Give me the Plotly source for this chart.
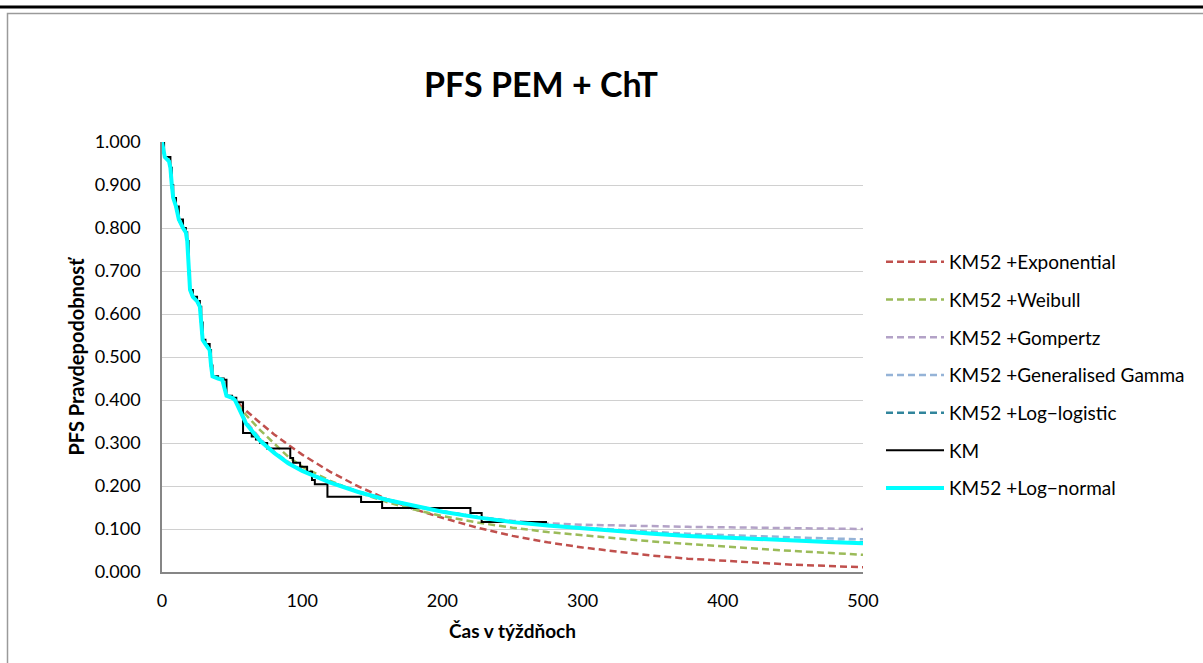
import plotly.graph_objects as go

# ---- data ----
km_t = [0, 1.5, 6, 7, 8, 10, 12, 15, 17, 18, 19, 20, 22, 25, 27, 28, 29, 31, 34, 35, 36, 40, 44, 46, 50, 53,
        57.8, 64, 67, 70, 75, 91.5, 93.5, 98.5, 103.5, 107, 109, 118, 142, 157, 220, 228, 274.6]
km_s = [1.000, 0.965, 0.940, 0.900, 0.870, 0.850, 0.820, 0.800, 0.790, 0.770, 0.700, 0.656, 0.640, 0.630,
        0.617, 0.580, 0.540, 0.530, 0.516, 0.480, 0.455, 0.450, 0.447, 0.410, 0.405, 0.395,
        0.323, 0.315, 0.308, 0.300, 0.287, 0.265, 0.254, 0.245, 0.233, 0.214, 0.204, 0.175, 0.163, 0.149,
        0.137, 0.116, 0.116]

early_t = [0, 1, 2, 5, 6, 7, 8, 10, 12, 15, 17, 18, 19, 20, 22, 25, 27, 28, 29, 31, 34, 35, 36, 40, 43, 46, 50]
early_s = [1.000, 0.985, 0.965, 0.955, 0.940, 0.900, 0.870, 0.850, 0.820, 0.800, 0.790, 0.770, 0.700, 0.656,
           0.640, 0.630, 0.617, 0.580, 0.540, 0.530, 0.516, 0.480, 0.455, 0.450, 0.447, 0.410, 0.405]

fit_t = [52, 60, 70, 80, 90, 100, 120, 140, 160, 180, 200, 225, 250, 275, 300, 325, 350, 375, 400, 425, 450, 475, 500]
exponential = [0.400, 0.375, 0.347, 0.320, 0.296, 0.273, 0.233, 0.199, 0.170, 0.146, 0.126, 0.103, 0.084, 0.069,
               0.057, 0.047, 0.038, 0.031, 0.026, 0.021, 0.017, 0.014, 0.011]
weibull = [0.400, 0.365, 0.330, 0.298, 0.268, 0.245, 0.212, 0.185, 0.163, 0.145, 0.130, 0.115, 0.103, 0.093,
           0.085, 0.078, 0.071, 0.065, 0.059, 0.054, 0.049, 0.044, 0.040]
gompertz = [0.400, 0.350, 0.310, 0.280, 0.256, 0.237, 0.209, 0.186, 0.167, 0.152, 0.140, 0.128, 0.119, 0.113,
            0.110, 0.108, 0.106, 0.105, 0.104, 0.103, 0.102, 0.101, 0.100]
gen_gamma = [0.400, 0.347, 0.306, 0.278, 0.254, 0.236, 0.209, 0.187, 0.169, 0.154, 0.141, 0.128, 0.117, 0.109,
             0.103, 0.098, 0.093, 0.089, 0.086, 0.083, 0.080, 0.078, 0.076]
log_logistic = [0.400, 0.346, 0.306, 0.278, 0.254, 0.236, 0.209, 0.187, 0.169, 0.154, 0.141, 0.128, 0.117, 0.109,
                0.102, 0.096, 0.090, 0.085, 0.081, 0.077, 0.074, 0.071, 0.069]
log_normal = [0.400, 0.345, 0.305, 0.277, 0.253, 0.235, 0.208, 0.186, 0.168, 0.153, 0.140, 0.127, 0.116, 0.108,
              0.101, 0.095, 0.089, 0.084, 0.080, 0.076, 0.073, 0.070, 0.067]

x_ticks = [0, 100, 200, 300, 400, 500]
y_ticks = [0.0, 0.1, 0.2, 0.3, 0.4, 0.5, 0.6, 0.7, 0.8, 0.9, 1.0]

FONT = "Lato, 'Open Sans', sans-serif"
W, H = 1203, 663
L, R, T, B = 162, 863, 142, 572


def px(x):
    return (x - L) / (R - L)


def py(y):
    return (B - y) / (B - T)


fig = go.Figure()
dash = "7px,4px"
fits = [
    ("KM52 +Exponential", exponential, "#C0504D"),
    ("KM52 +Weibull", weibull, "#9BBB59"),
    ("KM52 +Gompertz", gompertz, "#B3A2C7"),
    ("KM52 +Generalised Gamma", gen_gamma, "#95B3D7"),
    ("KM52 +Log\u2212logistic", log_logistic, "#31859C"),
]
for name, vals, col in fits:
    fig.add_trace(go.Scatter(x=early_t + fit_t, y=early_s + vals, mode="lines", name=name, legendgroup=name,
                             line=dict(color=col, width=2.5, dash=dash)))
fig.add_trace(go.Scatter(x=km_t, y=km_s, mode="lines", name="KM", legendgroup="KM",
                         line=dict(color="black", width=2, shape="hv")))
fig.add_trace(go.Scatter(x=early_t + fit_t, y=early_s + log_normal, mode="lines", name="KM52 +Log\u2212normal",
                         legendgroup="LN", line=dict(color="#00FFFF", width=4)))

fig.update_layout(
    width=W, height=H,
    margin=dict(l=L, r=W - R, t=T, b=H - B),
    paper_bgcolor="white", plot_bgcolor="white",
    font=dict(family=FONT, color="#000000", size=18),
    title=dict(text="<b>PFS PEM + ChT</b>", x=(541) / W, xanchor="center", y=1 - 85 / H, yanchor="middle",
               font=dict(size=34, family=FONT, color="black")),
    showlegend=True,
    legend=dict(x=px(881), xanchor="left", y=py(243), yanchor="top", traceorder="grouped",
                tracegroupgap=10, itemwidth=58, font=dict(size=19, family=FONT),
                bgcolor="rgba(0,0,0,0)"),
    shapes=[
        dict(type="line", xref="paper", yref="paper", x0=px(0), x1=px(1203), y0=py(7), y1=py(7),
             line=dict(color="black", width=3)),
        dict(type="rect", xref="paper", yref="paper", x0=px(7.5), x1=px(1300), y0=py(720), y1=py(13.5),
             line=dict(color="#9A9A9A", width=1.5), layer="below"),
    ],
)
fig.update_xaxes(range=[0, 500], tickvals=x_ticks, ticktext=[str(v) for v in x_ticks], showgrid=False,
                 showline=True, linecolor="#868686", linewidth=1.5, ticks="", zeroline=False,
                 tickfont=dict(size=18), ticklabelstandoff=12,
                 title=dict(text="<b>Čas v týždňoch</b>", font=dict(size=19), standoff=14))
fig.update_yaxes(range=[0, 1.0], tickvals=y_ticks, ticktext=[f"{v:.3f}" for v in y_ticks], showgrid=True,
                 gridcolor="#D0D0D0", gridwidth=1.2, showline=True, linecolor="#868686", linewidth=1.5,
                 ticks="", zeroline=False, tickfont=dict(size=18), ticklabelstandoff=16,
                 title=dict(text="<b>PFS Pravdepodobnosť</b>", font=dict(size=20), standoff=5))

fig.write_html("out.html", config={"displayModeBar": False},
               post_script="document.body.style.margin='0px';document.body.style.padding='0px';")
